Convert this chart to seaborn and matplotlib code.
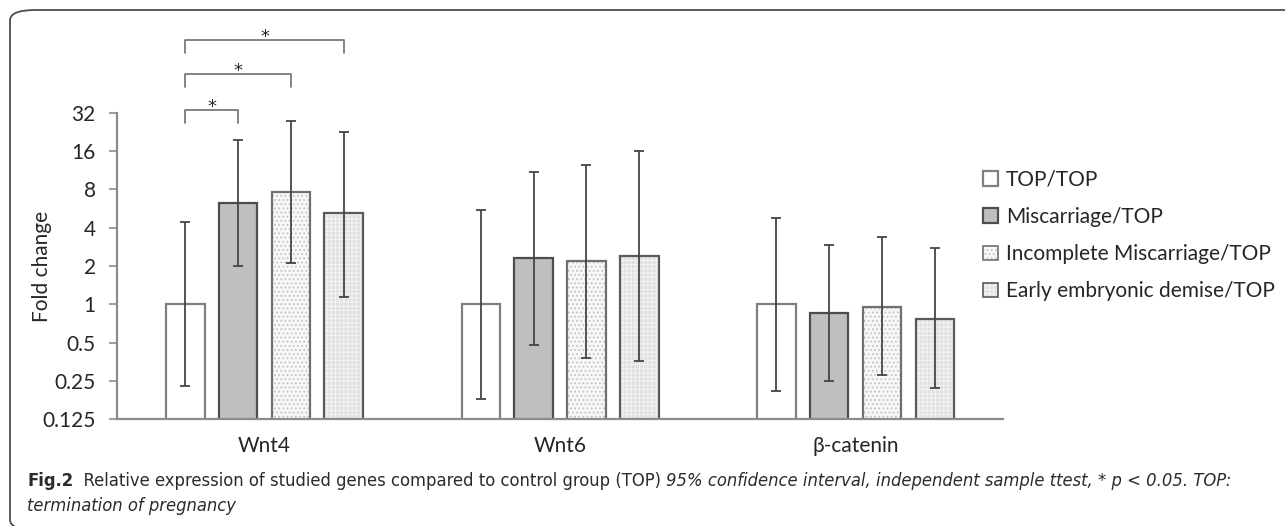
import os
import numpy as np
import pandas as pd
import seaborn as sns
import matplotlib
matplotlib.use("Agg")
import matplotlib.pyplot as plt
from matplotlib import font_manager as fm
from matplotlib.patches import FancyBboxPatch, Rectangle
from matplotlib.legend_handler import HandlerTuple
import matplotlib.transforms as mtrans

# ---------------- data ----------------
genes = ["Wnt4", "Wnt6", "β-catenin"]
groups = ["TOP/TOP", "Miscarriage/TOP", "Incomplete Miscarriage/TOP",
          "Early embryonic demise/TOP"]
# fold change per group and gene
fold_top = [1.0, 1.0, 1.0]
fold_misc = [6.3, 2.3, 0.85]
fold_incomplete = [7.6, 2.2, 0.96]
fold_early = [5.2, 2.4, 0.76]
# 95% CI lower / upper bounds
ci_low_top = [0.23, 0.18, 0.21]
ci_high_top = [4.4, 5.5, 4.8]
ci_low_misc = [2.0, 0.48, 0.25]
ci_high_misc = [19.7, 11.0, 2.9]
ci_low_incomplete = [2.1, 0.38, 0.28]
ci_high_incomplete = [27.6, 12.5, 3.4]
ci_low_early = [1.15, 0.36, 0.22]
ci_high_early = [22.6, 16.0, 2.75]
y_ticks = [0.125, 0.25, 0.5, 1, 2, 4, 8, 16, 32]
y_tick_labels = ["0.125", "0.25", "0.5", "1", "2", "4", "8", "16", "32"]
# significance comparisons in Wnt4: TOP/TOP vs group index
sig_pairs = [1, 2, 3]
sig_labels = ["*", "*", "*"]

folds = [fold_top, fold_misc, fold_incomplete, fold_early]
lows = [ci_low_top, ci_low_misc, ci_low_incomplete, ci_low_early]
highs = [ci_high_top, ci_high_misc, ci_high_incomplete, ci_high_early]

rows = []
for g, vals in zip(groups, folds):
    for gene, v in zip(genes, vals):
        rows.append({"gene": gene, "group": g, "fold": v})
df = pd.DataFrame(rows)

# ---------------- style ----------------
sns.set_theme(style="white")
names = {f.name for f in fm.fontManager.ttflist}
chart_font = "Lato" if "Lato" in names else "DejaVu Sans"
plt.rcParams["font.family"] = [chart_font, "DejaVu Sans"]
plt.rcParams["hatch.linewidth"] = 0.8

# caption font: prefer a condensed face
def find_font(keys):
    for f in fm.fontManager.ttflist:
        b = os.path.basename(f.fname)
        if b in keys:
            return f.fname
    return None

cond_reg = find_font(["DejaVuSansCondensed.ttf"])
cond_bold = find_font(["DejaVuSansCondensed-Bold.ttf"])
cond_it = find_font(["DejaVuSansCondensed-Oblique.ttf"])

def cap_props(weight, style, size):
    if weight == "bold":
        fname = cond_bold
    elif style == "italic":
        fname = cond_it
    else:
        fname = cond_reg
    if fname:
        return fm.FontProperties(fname=fname, size=size)
    return fm.FontProperties(family="Liberation Sans", weight=weight, style=style, size=size)

text_col = "#262626"
axis_col = "#8c8c8c"

fig = plt.figure(figsize=(12.85, 5.26), dpi=100)
fig.patch.set_facecolor("white")
ax = fig.add_axes([116.7 / 1285, 1 - 419.3 / 526, (1003.4 - 116.7) / 1285, (419.3 - 112.7) / 526])

face_cols = ["#ffffff", "#bfbfbf", "#f7f7f7", "#e0e0e0"]
edge_cols = ["#7f7f7f", "#4d4d4d", "#707070", "#5a5a5a"]
hatches = [None, None, "....", "++++"]
hatch_cols = [None, None, "#c2c2c2", "#f2f2f2"]

sns.barplot(data=df, x="gene", y="fold", hue="group", order=genes, hue_order=groups,
            palette=face_cols, width=0.715, gap=0.27, errorbar=None,
            saturation=1, ax=ax, legend=False)

ax.set_yscale("log", base=2)
ax.set_ylim(0.125, 32)
ax.set_xlim(-0.5, len(genes) - 0.5)

bar_conts = list(ax.containers)
legend_handles = []
for i, cont in enumerate(bar_conts):
    for j, p in enumerate(cont.patches):
        p.set_facecolor(face_cols[i])
        if hatches[i]:
            p.set_hatch(hatches[i])
            p.set_edgecolor(hatch_cols[i])  # hatch takes the edge colour
            p.set_linewidth(0.0)
            outline = Rectangle((p.get_x(), p.get_y()), p.get_width(), p.get_height(),
                                fill=False, edgecolor=edge_cols[i], lw=1.6,
                                zorder=p.get_zorder() + 0.1)
            ax.add_patch(outline)
            if j == 0:
                legend_handles.append((p, Rectangle((0, 0), 1, 1, fill=False,
                                                    edgecolor=edge_cols[i], lw=1.2)))
        else:
            p.set_edgecolor(edge_cols[i])
            p.set_linewidth(1.6)
            if j == 0:
                legend_handles.append(p)

for i, cont in enumerate(bar_conts):
    xs = [p.get_x() + p.get_width() / 2 for p in cont.patches]
    vals = np.array(folds[i])
    lo = vals - np.array(lows[i])
    hi = np.array(highs[i]) - vals
    ax.errorbar(xs, vals, yerr=[lo, hi], fmt="none", ecolor="#454545",
                elinewidth=1.3, capsize=3.4, capthick=1.3, zorder=5)

ax.set_yticks(y_ticks)
ax.set_yticklabels(y_tick_labels)
ax.yaxis.set_minor_locator(matplotlib.ticker.NullLocator())
ax.tick_params(axis="y", which="major", direction="out", length=6, width=1.2,
               color=axis_col, labelsize=15, labelcolor=text_col, pad=9, left=True)
ax.tick_params(axis="x", length=0, labelsize=15, labelcolor=text_col, pad=12)
ax.set_xlabel("")
ax.set_ylabel("Fold change", fontsize=15, color=text_col)
ax.yaxis.set_label_coords(-0.073, 0.5)
for s in ["top", "right"]:
    ax.spines[s].set_visible(False)
for s in ["left", "bottom"]:
    ax.spines[s].set_color(axis_col)
    ax.spines[s].set_linewidth(1.6)

# significance brackets on Wnt4
trans = mtrans.blended_transform_factory(ax.transData, ax.transAxes)
levels = [(1.0088, 0.9654), (1.1262, 1.0848), (1.2371, 1.1957)]
c0 = bar_conts[0].patches[0]
x0 = c0.get_x() + c0.get_width() / 2
for (top, bot), gi, lab in zip(levels, sig_pairs, sig_labels):
    pg = bar_conts[gi].patches[0]
    x1 = pg.get_x() + pg.get_width() / 2
    ax.plot([x0, x0, x1, x1], [bot, top, top, bot], color="#7a7a7a", lw=1.3,
            transform=trans, clip_on=False)
    ax.text((x0 + x1) / 2, top - 0.008, lab, transform=trans, ha="center",
            va="baseline", fontsize=13, family=["DejaVu Sans"], color=text_col)

# legend
leg = fig.legend(legend_handles, groups, loc="upper left",
                 handler_map={tuple: HandlerTuple(ndivide=1, pad=0)},
                 bbox_to_anchor=(983 / 1285, 1 - 170 / 526), frameon=False,
                 fontsize=15, handlelength=0.7, handleheight=0.7,
                 handletextpad=0.4, labelspacing=0.82, borderpad=0, borderaxespad=0)
for t in leg.get_texts():
    t.set_color(text_col)

# outer rounded frame
frame = FancyBboxPatch((10 / 1285, -4 / 526), 1.2, (526 - 6) / 526,
                       boxstyle="round,pad=0,rounding_size=0.02",
                       transform=fig.transFigure, fill=False,
                       edgecolor="#4d4d4d", lw=1.3, mutation_aspect=526 / 1285 * 2.4)
fig.add_artist(frame)

# caption (fit line 1 to the reference width)
fig.canvas.draw()
renderer = fig.canvas.get_renderer()
cap_col = "#2b2b2b"
pieces = [("Fig.2", "bold", "normal"),
          ("  Relative expression of studied genes compared to control group (TOP) ", "normal", "normal"),
          ("95% confidence interval, independent sample ttest, * p < 0.05. TOP:", "normal", "italic")]

def measure(size):
    tot = 0
    for txt, w, st in pieces:
        t = fig.text(0, 0, txt, fontproperties=cap_props(w, st, size))
        tot += t.get_window_extent(renderer).width
        t.remove()
    return tot

base = 12.5
cap_size = min(13.5, base * 1206 / measure(base))
x = 27
y1 = 1 - 481 / 526
for txt, w, st in pieces:
    t = fig.text(x / 1285, y1, txt, fontproperties=cap_props(w, st, cap_size),
                 color=cap_col, va="center", ha="left")
    x += t.get_window_extent(renderer).width
fig.text(27 / 1285, 1 - 506 / 526, "termination of pregnancy",
         fontproperties=cap_props("normal", "italic", cap_size), color=cap_col,
         va="center", ha="left")

fig.savefig("out.png", dpi=100, facecolor="white")
